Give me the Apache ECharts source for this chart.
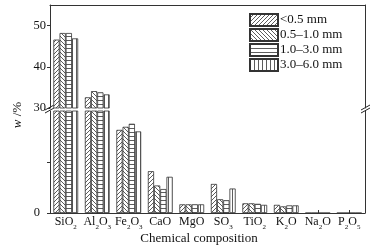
<html>
<head>
<meta charset="utf-8">
<script src="https://cdn.jsdelivr.net/npm/echarts@6/dist/echarts.min.js"></script>
<style>
  html, body { margin: 0; padding: 0; background: #fff; }
</style>
</head>
<body>
<div id="main" style="width: 375px;height:252px;"></div>
<script type="text/javascript">
    // 化学成分
    var categories = ['SiO2', 'Al2O3', 'Fe2O3', 'CaO', 'MgO', 'SO3', 'TiO2', 'K2O', 'Na2O', 'P2O5'];
    var seriesNames = ['<0.5 mm', '0.5–1.0 mm', '1.0–3.0 mm', '3.0–6.0 mm'];
    // 各粒径的质量分数 w/%
    var size1 = [46.6, 32.6, 16.3, 8.2, 1.7, 5.7, 1.9, 1.6, 0, 0];
    var size2 = [48.2, 34.1, 16.9, 5.4, 1.7, 2.7, 1.9, 1.3, 0, 0];
    var size3 = [48.2, 33.8, 17.5, 4.7, 1.7, 2.5, 1.8, 1.5, 0, 0];
    var size4 = [46.9, 33.3, 16.0, 7.1, 1.7, 4.8, 1.6, 1.5, 0, 0];
    var upperTicks = [30, 40, 50];
    var lowerTicks = [0, 10];
    var lowerLabels = [0];

    var allData = [size1, size2, size3, size4];
    var breakAt = 30;   // 断轴位置
    var font = 'Liberation Serif, Times New Roman, serif';

    // 填充花纹
    function makePattern(kind) {
        var s = 4;
        var c = document.createElement('canvas');
        c.width = s; c.height = s;
        var ctx = c.getContext('2d');
        ctx.fillStyle = '#fff';
        ctx.fillRect(0, 0, s, s);
        ctx.strokeStyle = '#333';
        ctx.lineWidth = 0.8;
        ctx.beginPath();
        if (kind === 'fwd') {
            ctx.moveTo(0, s); ctx.lineTo(s, 0);
            ctx.moveTo(-1, 1); ctx.lineTo(1, -1);
            ctx.moveTo(s - 1, s + 1); ctx.lineTo(s + 1, s - 1);
        } else if (kind === 'back') {
            ctx.moveTo(0, 0); ctx.lineTo(s, s);
            ctx.moveTo(-1, s - 1); ctx.lineTo(1, s + 1);
            ctx.moveTo(s - 1, -1); ctx.lineTo(s + 1, 1);
        } else if (kind === 'hor') {
            ctx.moveTo(0, 0.5); ctx.lineTo(s, 0.5);
        } else {
            ctx.moveTo(0.5, 0); ctx.lineTo(0.5, s);
        }
        ctx.stroke();
        return { image: c, repeat: 'repeat' };
    }
    var patterns = [makePattern('fwd'), makePattern('back'), makePattern('hor'), makePattern('ver')];

    function catLabel(v) {
        return v.split(/(\d)/).filter(function (t) { return t; }).map(function (t) {
            return /\d/.test(t) ? '{s|' + t + '}' : '{n|' + t + '}';
        }).join('');
    }

    var series = [];
    for (var i = 0; i < 4; i++) {
        var style = { color: patterns[i], borderColor: '#333', borderWidth: 0.8 };
        // 上半段（仅大于断点的值）
        series.push({
            name: seriesNames[i], type: 'bar', xAxisIndex: 0, yAxisIndex: 0,
            barWidth: 6.2, barGap: '0%', clip: true,
            itemStyle: style,
            data: allData[i].map(function (v) { return v > breakAt ? v : '-'; })
        });
        // 下半段
        series.push({
            name: seriesNames[i], type: 'bar', xAxisIndex: 1, yAxisIndex: 1,
            barWidth: 6.2, barGap: '0%', clip: true,
            itemStyle: style,
            data: allData[i]
        });
    }

    var axisLineStyle = { color: '#333', width: 1 };
    var myChart = echarts.init(document.getElementById('main'));
    myChart.setOption({
        animation: false,
        textStyle: { fontFamily: font },
        grid: [
            { left: 50, right: 10, top: 5, height: 103 },
            { left: 50, right: 10, top: 111, height: 102 }
        ],
        legend: {
            orient: 'vertical', left: 249, top: 13, padding: 0,
            itemWidth: 28, itemHeight: 12, itemGap: 1,
            icon: 'rect',
            data: seriesNames,
            textStyle: { fontFamily: font, fontSize: 13, lineHeight: 12, color: '#111', padding: [0, 0, 0, -3] }
        },
        xAxis: [
            {
                type: 'category', gridIndex: 0, data: categories, position: 'top',
                axisLine: { lineStyle: axisLineStyle },
                axisTick: { show: false }, axisLabel: { show: false }
            },
            {
                type: 'category', gridIndex: 1, data: categories,
                axisLine: { lineStyle: axisLineStyle },
                axisTick: { show: true, inside: true, length: 3, alignWithLabel: true, lineStyle: axisLineStyle },
                axisLabel: {
                    margin: 0, interval: 0, formatter: catLabel,
                    rich: {
                        n: { fontFamily: font, fontSize: 12, color: '#111', lineHeight: 18, verticalAlign: 'middle' },
                        s: { fontFamily: font, fontSize: 7, color: '#111', lineHeight: 8, verticalAlign: 'bottom' }
                    }
                }
            }
        ],
        yAxis: [
            {
                type: 'value', gridIndex: 0, min: 30, max: 55, interval: 10,
                axisLine: { show: true, lineStyle: axisLineStyle },
                axisTick: { show: true, length: 3, lineStyle: axisLineStyle, customValues: upperTicks },
                minorTick: { show: false },
                axisLabel: { fontFamily: font, fontSize: 12.5, color: '#111', margin: 4, customValues: upperTicks },
                splitLine: { show: false }
            },
            {
                type: 'value', gridIndex: 1, min: 0, max: 20, interval: 10,
                axisLine: { show: true, lineStyle: axisLineStyle },
                axisTick: { show: true, length: 3, lineStyle: axisLineStyle, customValues: lowerTicks },
                axisLabel: { fontFamily: font, fontSize: 12.5, color: '#111', margin: 10, customValues: lowerLabels },
                splitLine: { show: false }
            },
            {
                type: 'value', gridIndex: 0, min: 30, max: 55, position: 'right',
                axisLine: { show: true, lineStyle: axisLineStyle },
                axisTick: { show: false }, axisLabel: { show: false }, splitLine: { show: false }
            },
            {
                type: 'value', gridIndex: 1, min: 0, max: 20, position: 'right',
                axisLine: { show: true, lineStyle: axisLineStyle },
                axisTick: { show: false }, axisLabel: { show: false }, splitLine: { show: false }
            }
        ],
        graphic: [
            // 断轴符号
            { type: 'line', shape: { x1: 45, y1: 110, x2: 54, y2: 105 }, style: { stroke: '#222', lineWidth: 1 } },
            { type: 'line', shape: { x1: 45, y1: 113, x2: 54, y2: 108 }, style: { stroke: '#222', lineWidth: 1 } },
            { type: 'line', shape: { x1: 361, y1: 110, x2: 370, y2: 105 }, style: { stroke: '#222', lineWidth: 1 } },
            { type: 'line', shape: { x1: 361, y1: 113, x2: 370, y2: 108 }, style: { stroke: '#222', lineWidth: 1 } },
            {
                type: 'text', x: 199, y: 239,
                style: { text: 'Chemical composition', fontFamily: font, fontSize: 13, fill: '#111', align: 'center', verticalAlign: 'middle' }
            },
            {
                type: 'text', x: 18, y: 115, rotation: Math.PI / 2,
                style: {
                    text: '{i|w} /%', align: 'center', verticalAlign: 'middle',
                    rich: {
                        i: { fontFamily: font, fontSize: 13, fontStyle: 'italic', fill: '#111' }
                    },
                    fontFamily: font, fontSize: 13, fill: '#111'
                }
            }
        ],
        series: series
    });
</script>
</body>
</html>
